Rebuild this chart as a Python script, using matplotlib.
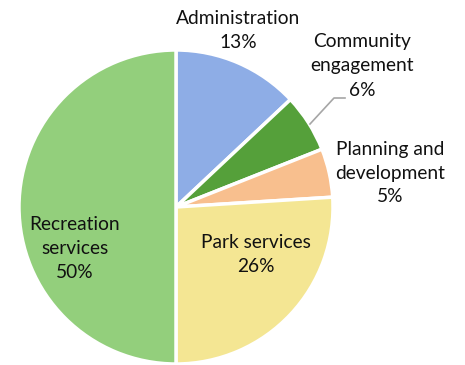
import matplotlib
matplotlib.use("Agg")
import matplotlib.pyplot as plt

categories = ["Administration", "Community\nengagement", "Planning and\ndevelopment",
              "Park services", "Recreation\nservices"]
shares = [13, 6, 5, 26, 50]
colors = ["#8EADE6", "#55A03A", "#F8BF8E", "#F4E693", "#93CF7C"]

plt.rcParams["font.family"] = ["Lato", "DejaVu Sans"]

W, H = 465, 365
fig = plt.figure(figsize=(W / 100, H / 100), dpi=100)
ax = fig.add_axes([0, 0, 1, 1])

cx, cy, r = 176, 207, 157
# y axis is inverted, so a counter-clockwise pie in data space runs clockwise on screen
wedges, _ = ax.pie(shares, colors=colors, startangle=-90, counterclock=True,
                   center=(cx, cy), radius=r, frame=True,
                   wedgeprops=dict(edgecolor="white", linewidth=2.5))
ax.set_xlim(0, W)
ax.set_ylim(H, 0)
ax.set_aspect("equal")
ax.axis("off")

label_pos = [(238, 31), (362, 66), (390, 173), (256, 255), (75, 248)]
fs = 13.8
for name, val, (x, y) in zip(categories, shares, label_pos):
    ax.text(x, y, f"{name}\n{val}%", ha="center", va="center", fontsize=fs,
            linespacing=1.5, color="#111111")

# leader line for the small slice
ax.plot([310, 334, 345], [124, 98, 98], color="#A6A6A6", lw=1.2)

fig.savefig("out.png", dpi=100)
